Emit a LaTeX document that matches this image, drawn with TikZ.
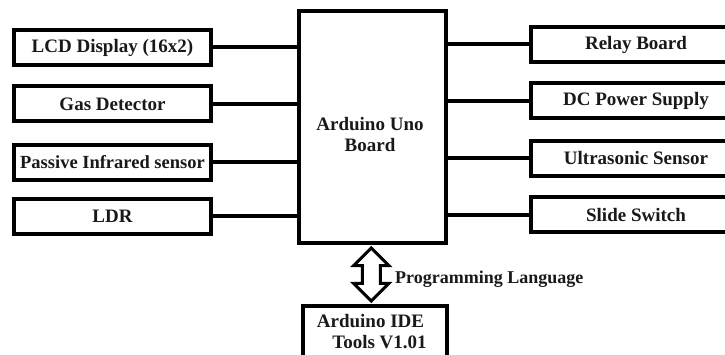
\documentclass[tikz,border=0pt]{standalone}
\usepackage{fontspec}
\setmainfont{Liberation Serif}
\usetikzlibrary{shapes.arrows,calc}
\begin{document}
\begin{tikzpicture}[x=1pt,y=-1pt,
  blk/.style={draw=black,line width=4pt,fill=white,inner sep=0pt,
    font=\fontsize{19}{21}\selectfont\bfseries,text=black!90},
  lbox/.style={blk,minimum width=197pt,minimum height=35pt},
  rbox/.style={blk,minimum width=210pt,minimum height=35pt},
  wire/.style={line width=4pt},
  dbl/.style={double arrow,draw=black,line width=3pt,fill=white,
    double arrow head extend=8.5pt,inner xsep=0pt,inner ysep=7.5pt,
    minimum height=53pt,rotate=90},
  lbl/.style={font=\fontsize{18}{20}\selectfont\bfseries,text=black!90,inner sep=0pt}
]
\useasboundingbox (0,0) rectangle (725,355);
\clip (0,0) rectangle (725,355);
\fill[white] (0,0) rectangle (725,355);

\node[blk,minimum width=147pt,minimum height=232pt] (ard) at (372.5,127) {};
\node[blk,draw=none,fill=none,align=center] (ardtxt) at (370,135) {Arduino Uno\\Board};

\node[lbox] (lcd) at (112.5,47.5) {LCD Display (16x2)};
\node[lbox] (gas) at (112.5,104) {Gas Detector};
\node[lbox,font=\fontsize{18.5}{21}\selectfont\bfseries] (pir) at (112.5,162.5) {Passive Infrared sensor};
\node[lbox] (ldr) at (112.5,216.5) {LDR};

\node[rbox] (relay) at (636,44.5) {Relay Board};
\node[rbox] (dc) at (636,101) {DC Power Supply};
\node[rbox] (ultra) at (636,158.5) {Ultrasonic Sensor};
\node[rbox] (slide) at (636,215) {Slide Switch};

\node[blk,minimum width=144pt,minimum height=51pt,align=center,
  font=\fontsize{19}{21}\selectfont\bfseries] (ide) at (375,331.5)
  {Arduino IDE\hspace*{9pt}\\\hspace*{9pt}Tools V1.01};

\foreach \n in {lcd,gas,pir,ldr}
  \draw[wire] (\n.east) -- (\n.east -| ard.west);
\foreach \n in {relay,dc,ultra,slide}
  \draw[wire] (\n.west) -- (\n.west -| ard.east);

\node[dbl] (arr) at ($(ard.south)!0.5!(ide.north)+(-2.5,0)$) {};
\node[lbl,anchor=west] (pl) at (395,279) {Programming Language};
\end{tikzpicture}
\end{document}
